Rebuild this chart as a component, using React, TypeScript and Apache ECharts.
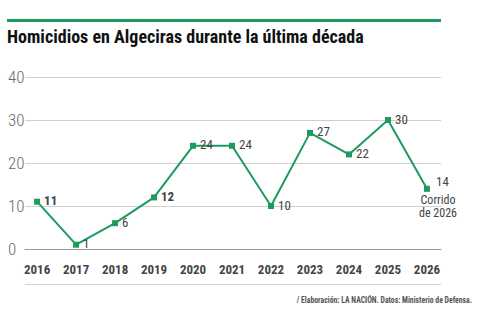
import React, { useEffect, useRef } from "react";
import * as echarts from "echarts";

const years = [2016, 2017, 2018, 2019, 2020, 2021, 2022, 2023, 2024, 2025, 2026];
const homicides = [11, 1, 6, 12, 24, 24, 10, 27, 22, 30, 14];
const boldLabels = [true, false, false, true, false, false, false, false, false, false, false];
const yTicks = [0, 10, 20, 30, 40];
const title = "Homicidios en Algeciras durante la última década";
const note = "Corrido\nde 2026";
const source = "/ Elaboración: LA NACIÓN. Datos: Ministerio de Defensa.";

const GREEN = "#1f9a5e";
const FONT = "'Roboto Condensed', 'Roboto', sans-serif";

export default function App() {
  const ref = useRef<HTMLDivElement>(null);
  useEffect(() => {
    document.body.style.margin = "0";
    if (!ref.current) return;
    const chart = echarts.init(ref.current, null, { renderer: "svg" });
    chart.setOption({
      animation: false,
      textStyle: { fontFamily: FONT },
      grid: { left: 25, right: 39, top: 77, bottom: 62 },
      xAxis: {
        type: "value",
        min: 2015.69,
        max: 2026.36,
        axisLine: { show: true, lineStyle: { color: "#9a9a9a", width: 1 } },
        axisTick: { show: false },
        splitLine: { show: false },
        axisLabel: {
          customValues: years,
          formatter: (v: number) => String(v),
          color: "#444",
          fontWeight: "bold",
          fontSize: 13,
          fontFamily: FONT,
          margin: 14,
        },
      },
      yAxis: {
        type: "value",
        min: 0,
        max: 40,
        interval: 10,
        axisLine: { show: false },
        axisTick: { show: false },
        splitLine: { show: true, lineStyle: { color: "#d0d0d0", width: 1 } },
        axisLabel: {
          customValues: yTicks,
          color: "#6a6a6a",
          fontSize: 17,
          fontWeight: 300,
          fontFamily: FONT,
          align: "left",
          margin: 17,
          verticalAlign: "middle",
          padding: [0, 0, 4, 0],
        },
      },
      series: [
        {
          type: "line",
          data: years.map((y, i) => ({
            value: [y, homicides[i]],
            label: {
              show: true,
              position: "right",
              distance: 4,
              offset: i === years.length - 1 ? [2, -7] : [0, -1],
              fontWeight: boldLabels[i] ? "bold" : "normal",
            },
          })),
          symbol: "rect",
          symbolSize: 6,
          lineStyle: { color: GREEN, width: 2 },
          itemStyle: { color: GREEN },
          label: {
            show: true,
            color: "#444",
            fontSize: 13,
            fontFamily: FONT,
            formatter: (p: any) => String(p.value[1]),
          },
        },
      ],
      graphic: [
        {
          type: "rect",
          shape: { x: 7, y: 19, width: 434, height: 3 },
          style: { fill: GREEN },
        },
        {
          type: "text",
          x: 7,
          y: 36,
          style: {
            text: title,
            fill: "#111",
            font: `bold 18px ${FONT}`,
            verticalAlign: "middle",
          },
        },
        {
          type: "text",
          x: 438,
          y: 193,
          style: {
            text: note,
            fill: "#444",
            font: `12px ${FONT}`,
            align: "center",
            verticalAlign: "top",
            lineHeight: 13,
          },
        },
        {
          type: "line",
          shape: { x1: 25, y1: 284.5, x2: 441, y2: 284.5 },
          style: { stroke: "#d0d0d0", lineWidth: 1 },
        },
        {
          type: "text",
          x: 472,
          y: 300,
          scaleX: 0.86,
          style: {
            text: source,
            fill: "#555",
            font: `bold 9px ${FONT}`,
            align: "right",
            verticalAlign: "middle",
          },
        },
      ],
    });
    return () => chart.dispose();
  }, []);
  return (
    <div
      ref={ref}
      style={{ position: "absolute", left: 0, top: 0, width: 480, height: 311 }}
    />
  );
}
